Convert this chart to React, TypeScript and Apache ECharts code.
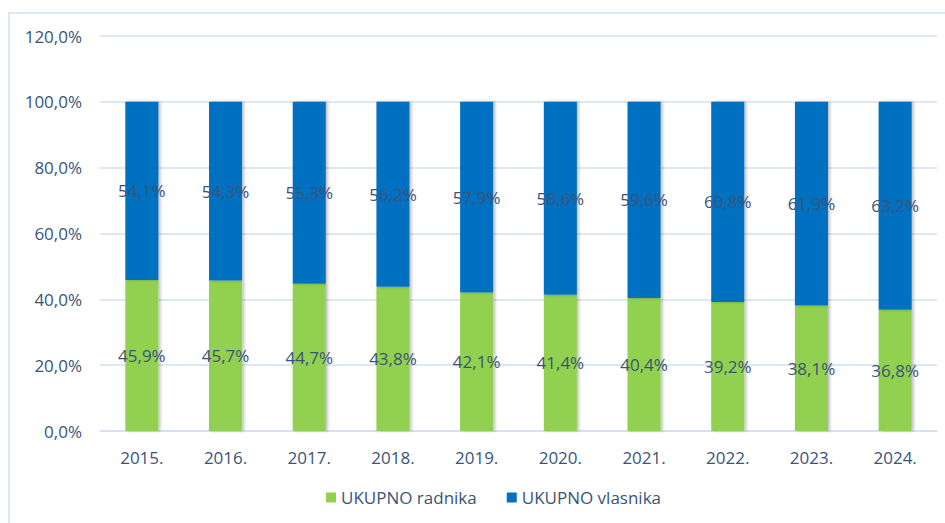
import React, { useEffect, useRef } from "react";
import * as echarts from "echarts";

const categories = ["2015.", "2016.", "2017.", "2018.", "2019.", "2020.", "2021.", "2022.", "2023.", "2024."];
const radnika = [45.9, 45.7, 44.7, 43.8, 42.1, 41.4, 40.4, 39.2, 38.1, 36.8];
const vlasnika = [54.1, 54.3, 55.3, 56.2, 57.9, 58.6, 59.6, 60.8, 61.9, 63.2];
const yTicks = { min: 0, max: 120, interval: 20 };

const fmt = (v: number) => v.toFixed(1).replace(".", ",");
const FONT = "'Open Sans', 'Liberation Sans', sans-serif";
const TXT = "#3A5478";
const FS = 17;

export default function App() {
  const ref = useRef<HTMLDivElement>(null);
  useEffect(() => {
    if (!ref.current) return;
    const chart = echarts.init(ref.current, null, { renderer: "svg" });
    const label = {
      show: true,
      position: "inside",
      color: TXT,
      fontSize: FS,
      fontFamily: FONT,
      formatter: (p: any) => fmt(p.value) + "%",
    };
    chart.setOption({
      animation: false,
      grid: { left: 100, right: 8, top: 36, bottom: 92 },
      graphic: [
        {
          type: "rect",
          shape: { x: 9, y: 13, width: 960, height: 540 },
          style: { fill: "none", stroke: "#D3E0F1", lineWidth: 1.5 },
          silent: true,
        },
      ],
      legend: {
        bottom: 12,
        left: 321,
        itemWidth: 10,
        itemHeight: 10,
        itemGap: 30,
        icon: "rect",
        textStyle: { color: TXT, fontSize: FS, fontFamily: FONT },
        data: ["UKUPNO radnika", "UKUPNO vlasnika"],
      },
      xAxis: {
        type: "category",
        data: categories,
        axisLine: { lineStyle: { color: "#D3E0F1", width: 1.5 } },
        axisTick: { show: false },
        axisLabel: { color: TXT, fontSize: FS, fontFamily: FONT, margin: 18 },
      },
      yAxis: {
        type: "value",
        min: yTicks.min,
        max: yTicks.max,
        interval: yTicks.interval,
        axisLine: { show: false },
        axisTick: { show: false },
        splitLine: { lineStyle: { color: "#D3E0F1", width: 1.5 } },
        axisLabel: {
          color: TXT,
          fontSize: FS,
          fontFamily: FONT,
          margin: 18,
          formatter: (v: number) => fmt(v) + "%",
        },
      },
      series: [
        {
          name: "UKUPNO radnika",
          type: "bar",
          stack: "t",
          data: radnika,
          barWidth: "39.5%",
          itemStyle: {
            color: "#92D050",
            shadowColor: "rgba(0,0,0,0.25)",
            shadowBlur: 3,
            shadowOffsetX: 2,
          },
          label,
        },
        {
          name: "UKUPNO vlasnika",
          type: "bar",
          stack: "t",
          data: vlasnika,
          barWidth: "39.5%",
          itemStyle: {
            color: "#0070C0",
            shadowColor: "rgba(0,0,0,0.25)",
            shadowBlur: 3,
            shadowOffsetX: 2,
          },
          label,
        },
      ],
    });
    return () => chart.dispose();
  }, []);
  return <div ref={ref} style={{ width: 945, height: 523, position: "absolute", left: 0, top: 0 }} />;
}
